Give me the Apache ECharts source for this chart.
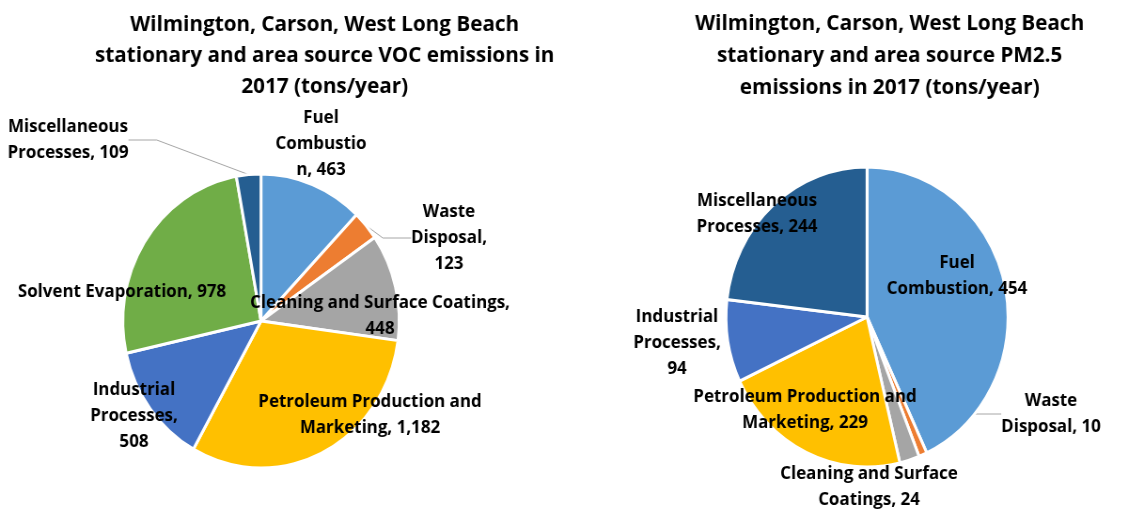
<!DOCTYPE html>
<html>
<head>
<meta charset="utf-8">
<script src="https://cdn.jsdelivr.net/npm/echarts@6/dist/echarts.min.js"></script>
<style>
  html, body { margin: 0; padding: 0; background: #fff; overflow: hidden; }
  /* the reference pies are slightly squeezed horizontally */
  #main { width: 1212px; height: 512px; transform: scaleX(0.94); transform-origin: 0 0; }
</style>
</head>
<body>
<div id="main"></div>
<script>
const SX = 0.94

// VOC (left pie)
const vocNames = ['Fuel Combustion', 'Waste Disposal', 'Cleaning and Surface Coatings', 'Petroleum Production and Marketing', 'Industrial Processes', 'Solvent Evaporation', 'Miscellaneous Processes']
const vocValues = [463, 123, 448, 1182, 508, 978, 109]
const vocLabels = ['Fuel\nCombustio\nn, {v}', 'Waste\nDisposal,\n{v}', 'Cleaning and Surface Coatings,\n{v}', 'Petroleum Production and\nMarketing, {v}', 'Industrial\nProcesses,\n{v}', 'Solvent Evaporation, {v}', 'Miscellaneous\nProcesses, {v}']
const vocColors = ['#5B9BD5', '#ED7D31', '#A5A5A5', '#FFC000', '#4472C4', '#70AD47', '#255E91']

// PM2.5 (right pie)
const pmNames = ['Fuel Combustion', 'Waste Disposal', 'Cleaning and Surface Coatings', 'Petroleum Production and Marketing', 'Industrial Processes', 'Miscellaneous Processes']
const pmValues = [454, 10, 24, 229, 94, 244]
const pmLabels = ['Fuel\nCombustion, {v}', 'Waste\nDisposal, {v}', 'Cleaning and Surface\nCoatings, {v}', 'Petroleum Production and\nMarketing, {v}', 'Industrial\nProcesses,\n{v}', 'Miscellaneous\nProcesses, {v}']
const pmColors = ['#5B9BD5', '#ED7D31', '#A5A5A5', '#FFC000', '#4472C4', '#255E91']

// label centres (picture pixels)
const vocPos = [[321, 144], [449, 238], [380, 316], [370, 415], [134, 416], [122, 292], [68, 140]]
const pmPos = [[957, 276], [1051, 414], [869, 487], [805, 410], [677, 343], [757, 214]]
const vocLines = [6, 1]
const pmLines = [1]

const FONT = '"Open Sans", "Liberation Sans", sans-serif'

function buildData(names, values, lines) {
  return names.map((n, i) => ({
    name: n,
    value: values[i],
    labelLine: { show: lines.indexOf(i) >= 0 }
  }))
}

function pieSeries(center, radius, names, values, labels, colors, pos, lines) {
  return {
    type: 'pie',
    center: center,
    radius: radius,
    startAngle: 90,
    clockwise: true,
    avoidLabelOverlap: false,
    data: buildData(names, values, lines),
    color: colors,
    itemStyle: { borderColor: '#fff', borderWidth: 3 },
    label: {
      show: true,
      position: 'outside',
      color: '#000',
      fontFamily: FONT,
      fontWeight: 'bold',
      fontSize: 18,
      lineHeight: 26,
      formatter: p => labels[p.dataIndex].replace('{v}', p.value.toLocaleString('en-US'))
    },
    labelLine: {
      show: false,
      lineStyle: { color: '#A6A6A6', width: 1 }
    },
    labelLayout: p => ({
      x: pos[p.dataIndex][0] / SX,
      y: pos[p.dataIndex][1],
      align: 'center',
      verticalAlign: 'middle'
    }),
    emphasis: { disabled: true }
  }
}

const chart = echarts.init(document.getElementById('main'))
chart.setOption({
  animation: false,
  backgroundColor: '#fff',
  title: [{
    text: 'Wilmington, Carson, West Long Beach\nstationary and area source VOC emissions in\n2017 (tons/year)',
    left: 320 / SX,
    top: 4,
    textAlign: 'center',
    textStyle: { fontFamily: FONT, fontWeight: 'bold', fontSize: 22, lineHeight: 31, color: '#000' }
  }, {
    text: 'Wilmington, Carson, West Long Beach\nstationary and area source PM2.5\nemissions in 2017 (tons/year)',
    left: 885 / SX,
    top: 3,
    textAlign: 'center',
    textStyle: { fontFamily: FONT, fontWeight: 'bold', fontSize: 22, lineHeight: 32, color: '#000' }
  }],
  series: [
    pieSeries([261 / SX, 321], 147, vocNames, vocValues, vocLabels, vocColors, vocPos, vocLines),
    pieSeries([867 / SX, 317], 150, pmNames, pmValues, pmLabels, pmColors, pmPos, pmLines)
  ]
})
</script>
</body>
</html>
